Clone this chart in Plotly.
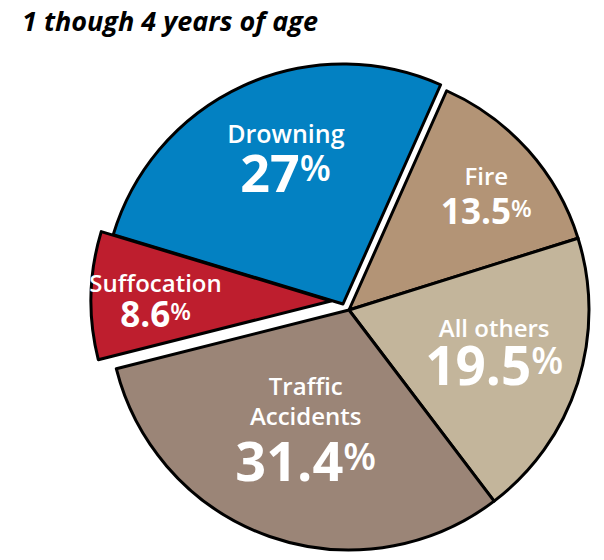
import plotly.graph_objects as go

# Data
categories = ["Fire", "All others", "Traffic Accidents", "Suffocation", "Drowning"]
name_lines = [["Fire"], ["All others"], ["Traffic", "Accidents"], ["Suffocation"], ["Drowning"]]
percentages = [13.5, 19.5, 31.4, 8.6, 27]
pct_labels = ["13.5", "19.5", "31.4", "8.6", "27"]
title_text = "1 though 4 years of age"

# Styles
colors = ["#b39476", "#c3b59b", "#9b8577", "#be1e2e", "#0381c2"]
FONT = "Open Sans"
BASE = 30                                      # uniform line spacing = 1.3 * BASE
name_raise = [[0], [9], [8, 17], [-4], [10]]   # per-line vertical tweak (px)
name_sizes = [24, 24, 24, 24, 25]
digit_sizes = [35, 53, 54, 35, 52]
pad_chars = [3, 0, 0, 1, 0]                    # invisible left padding (nudges text right)
tail_drop = [0, 0, 0, 0, 49]                   # invisible tail below (nudges text up)

# Geometry: which slices each pie layer shows, and the layer's domain
# (layer 0: unpulled slices; layers 1-2: exploded slices)
layers = [
    dict(show=[0, 1, 2], x=[0.18046, 0.97517], y=[0.017857, 0.875]),
    dict(show=[4], x=[0.17053, 0.96523], y=[0.028571, 0.885714]),
    dict(show=[3], x=[0.15066, 0.94536], y=[0.033929, 0.891071]),
]

INVIS = "fill:rgba(0,0,0,0)"


def build_text(i):
    pad = ""
    if pad_chars[i]:
        pad = f"<span style='font-size:12px;{INVIS}'>{'0' * pad_chars[i]}</span>"
    parts = []
    for ln, rz in zip(name_lines[i], name_raise[i]):
        parts.append(
            pad + f"<span style='font-size:{name_sizes[i]}px;font-weight:600;"
            f"baseline-shift:{rz}px'>{ln}</span>"
        )
    ds = digit_sizes[i]
    ps = round(ds * 0.7)
    sh = round(ds * 0.21)
    last = (
        pad + f"<span style='font-size:{ds}px;font-weight:700'>{pct_labels[i]}</span>"
        f"<span style='font-size:{ps}px;font-weight:600;baseline-shift:{sh}px'>%</span>"
    )
    if tail_drop[i]:
        last += f"<span style='font-size:2px;{INVIS};baseline-shift:{-tail_drop[i]}px'>.</span>"
    parts.append(last)
    return "<br>".join(parts)


fig = go.Figure()
for layer in layers:
    shown = layer["show"]
    fig.add_trace(
        go.Pie(
            labels=categories,
            values=percentages,
            text=[build_text(i) if i in shown else "" for i in range(len(categories))],
            textinfo="text",
            texttemplate="%{text}",
            textposition="inside",
            insidetextorientation="horizontal",
            insidetextfont=dict(family=FONT, color="white", size=BASE),
            sort=False,
            direction="clockwise",
            rotation=24,
            marker=dict(
                colors=[c if i in shown else "rgba(0,0,0,0)" for i, c in enumerate(colors)],
                line=dict(color="black", width=[3 if i in shown else 0 for i in range(len(categories))]),
            ),
            hoverinfo="label+percent",
            domain=dict(x=layer["x"], y=layer["y"]),
            showlegend=False,
        )
    )

fig.update_layout(
    width=604,
    height=560,
    margin=dict(l=0, r=0, t=0, b=0),
    paper_bgcolor="white",
    plot_bgcolor="white",
    uniformtext=dict(mode="show", minsize=BASE),
    title=dict(
        text=f"<b><i>{title_text}</i></b>",
        font=dict(family=FONT, size=27, color="black"),
        x=22 / 604,
        xref="container",
        xanchor="left",
        y=1 - 12 / 560,
        yref="container",
        yanchor="top",
    ),
)

fig.write_html(
    "out.html",
    config={"displayModeBar": False},
    post_script="document.body.style.margin='0';document.body.style.padding='0';",
)
